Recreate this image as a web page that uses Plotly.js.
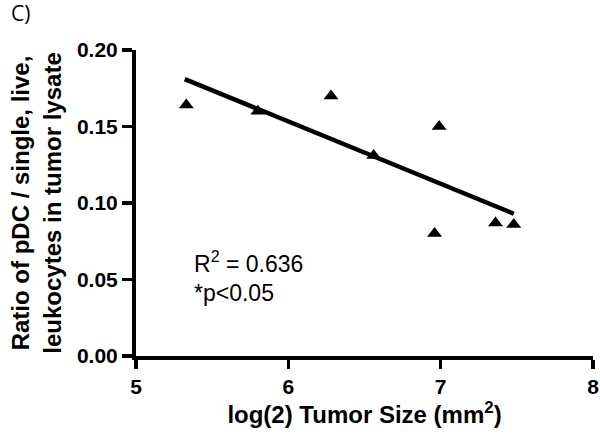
<!DOCTYPE html>
<html>
<head>
<meta charset="utf-8">
<script src="https://cdn.plot.ly/plotly-3.0.1.min.js"></script>
<style>html,body{margin:0;padding:0;background:#fff;}#chart{width:600px;height:434px;}</style>
</head>
<body>
<div id="chart"></div>
<script>
// Data
const tumorSizeLog2 = [5.33, 5.80, 6.28, 6.56, 6.96, 6.99, 7.36, 7.48];
const pdcRatio      = [0.164, 0.160, 0.170, 0.131, 0.080, 0.150, 0.087, 0.086];
// Regression line endpoints (as drawn)
const fitX = [5.32, 7.48];
const fitY = [0.181, 0.093];
const xTicks = [5, 6, 7, 8];
const yTicks = [0, 0.05, 0.10, 0.15, 0.20];
const yTickLabels = ['0.00', '0.05', '0.10', '0.15', '0.20'];

const FONT = 'Liberation Sans, Arial, Helvetica, sans-serif';

const traces = [
  {
    x: fitX, y: fitY, type: 'scatter', mode: 'lines',
    line: {color: '#000', width: 4.5}, hoverinfo: 'skip', showlegend: false
  },
  {
    x: tumorSizeLog2, y: pdcRatio, type: 'scatter', mode: 'markers',
    marker: {symbol: 'triangle-up', size: 13, color: '#000'}, showlegend: false
  }
];

const layout = {
  width: 600, height: 434,
  margin: {l: 136, r: 7, t: 50, b: 78},
  paper_bgcolor: '#fff', plot_bgcolor: '#fff',
  font: {family: FONT, color: '#000'},
  showlegend: false,
  xaxis: {
    range: [5, 8], tickvals: xTicks, ticktext: xTicks.map(String),
    showgrid: false, zeroline: false,
    showline: true, linecolor: '#000', linewidth: 4,
    ticks: 'outside', ticklen: 9, tickwidth: 3.5, tickcolor: '#000',
    tickfont: {family: FONT, size: 21, weight: 'bold', color: '#000'},
    title: {text: 'log(2) Tumor Size (mm<sup>2</sup>)', standoff: 10,
            font: {family: FONT, size: 24, weight: 'bold', color: '#000'}}
  },
  yaxis: {
    range: [0, 0.2], tickvals: yTicks, ticktext: yTickLabels,
    showgrid: false, zeroline: false,
    showline: true, linecolor: '#000', linewidth: 4,
    ticks: 'outside', ticklen: 10, tickwidth: 3.5, tickcolor: '#000',
    tickfont: {family: FONT, size: 21, weight: 'bold', color: '#000'},
    title: {text: 'Ratio of pDC / single, live,<br>leukocytes in tumor lysate', standoff: 10,
            font: {family: FONT, size: 24, weight: 'bold', color: '#000'}}
  },
  annotations: [
    {text: 'C)', xref: 'paper', yref: 'paper', x: -0.278, y: 1.12, xanchor: 'left', yanchor: 'middle',
     showarrow: false, font: {family: 'Open Sans, sans-serif', size: 21, color: '#000'}},
    {text: 'R<sup>2</sup> = 0.636', xref: 'x', yref: 'y', x: 5.37, y: 0.0615, xanchor: 'left', yanchor: 'middle',
     showarrow: false, font: {family: FONT, size: 23, color: '#000'}},
    {text: '*p<0.05', xref: 'x', yref: 'y', x: 5.37, y: 0.0412, xanchor: 'left', yanchor: 'middle',
     showarrow: false, font: {family: FONT, size: 23, color: '#000'}}
  ]
};

Plotly.newPlot('chart', traces, layout, {displayModeBar: false, staticPlot: true});
</script>
</body>
</html>
